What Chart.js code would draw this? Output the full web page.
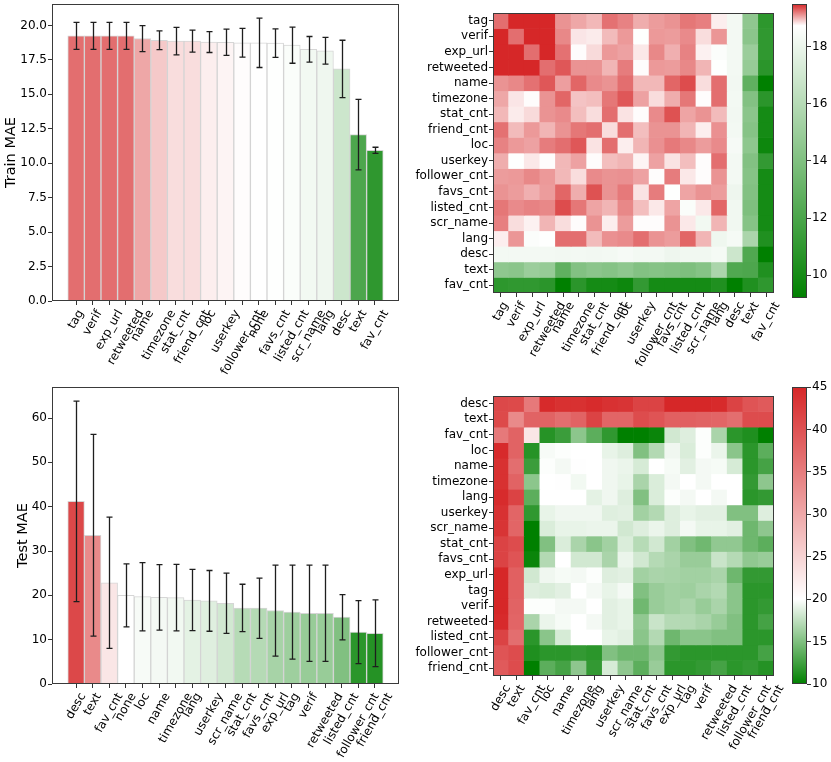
<!DOCTYPE html>
<html lang="en">
<head>
<meta charset="UTF-8">
<title>Feature ablation MAE</title>
<script src="https://cdn.jsdelivr.net/npm/chart.js"></script>
<style>
  body { margin: 0; background: #fff; }
  #wrap { position: relative; width: 831px; height: 762px; }
  canvas { position: absolute; }
</style>
</head>
<body>
<div id="wrap">
  <canvas id="trainBar" width="410" height="380" style="left:0;top:0"></canvas>
  <canvas id="testBar" width="410" height="382" style="left:0;top:380px"></canvas>
  <canvas id="trainHeat" width="375" height="380" style="left:410px;top:0"></canvas>
  <canvas id="testHeat" width="375" height="382" style="left:410px;top:380px"></canvas>
  <canvas id="trainCbar" width="46" height="310" style="left:785px;top:0"></canvas>
  <canvas id="testCbar" width="46" height="310" style="left:785px;top:380px"></canvas>
</div>
<script>
// single feature removed -> MAE (mean, +/- error)
const trainFeatures = ['tag', 'verif', 'exp_url', 'retweeted', 'name', 'timezone', 'stat_cnt', 'friend_cnt', 'loc', 'userkey',
  'follower_cnt', 'none', 'favs_cnt', 'listed_cnt', 'scr_name', 'lang', 'desc', 'text', 'fav_cnt'];
const trainMae = [19.25, 19.25, 19.25, 19.25, 19.05, 18.93, 18.86, 18.86, 18.8, 18.78,
  18.75, 18.74, 18.72, 18.57, 18.27, 18.16, 16.85, 12.08, 10.94];
const trainErr = [0.98, 0.98, 0.98, 0.98, 0.94, 0.68, 1.0, 0.8, 0.76, 0.95,
  1.04, 1.79, 1.03, 1.31, 0.93, 0.97, 2.08, 2.56, 0.22];
const trainTicks = [0, 2.5, 5, 7.5, 10, 12.5, 15, 17.5, 20];

const testFeatures = ['desc', 'text', 'fav_cnt', 'none', 'loc', 'name', 'timezone', 'lang', 'userkey', 'scr_name',
  'stat_cnt', 'favs_cnt', 'exp_url', 'tag', 'verif', 'retweeted', 'listed_cnt', 'follower_cnt', 'friend_cnt'];
const testMae = [41.2, 33.55, 22.85, 20.0, 19.7, 19.55, 19.5, 18.95, 18.75, 18.2,
  17.15, 17.1, 16.55, 16.2, 15.95, 15.95, 15.07, 11.7, 11.45];
const testErr = [22.6, 22.75, 14.8, 7.1, 7.7, 7.4, 7.5, 6.9, 6.85, 6.8,
  5.35, 6.8, 10.25, 10.6, 10.85, 10.85, 5.1, 7.1, 7.55];
const testTicks = [0, 10, 20, 30, 40, 50, 60];

// pairs of features removed -> train MAE
const trainPairs = ['tag', 'verif', 'exp_url', 'retweeted', 'name', 'timezone', 'stat_cnt', 'friend_cnt', 'loc',
  'userkey', 'follower_cnt', 'favs_cnt', 'listed_cnt', 'scr_name', 'lang', 'desc', 'text', 'fav_cnt'];
const trainGrid = [
  [19.25, 19.5, 19.5, 19.5, 19.12, 19.05, 18.99, 19.24, 19.18, 19.03, 19.09, 19.12, 19.22, 19.19, 18.8, 18.3, 14.55, 10.9],
  [19.5, 19.25, 19.5, 19.5, 19.16, 18.83, 18.81, 18.98, 19.1, 18.72, 19.1, 19.09, 19.15, 18.86, 19.11, 18.3, 14.4, 11.0],
  [19.5, 19.5, 19.25, 19.5, 19.24, 18.75, 18.87, 19.1, 19.07, 18.82, 19.16, 19.02, 19.18, 18.79, 18.6, 18.3, 15.0, 11.0],
  [19.5, 19.5, 19.5, 19.25, 19.33, 19.12, 19.12, 19.0, 19.2, 18.75, 19.1, 19.09, 19.16, 19.0, 18.72, 18.3, 14.8, 10.8],
  [19.12, 19.16, 19.24, 19.33, 19.08, 19.28, 19.15, 19.12, 19.25, 18.99, 18.99, 19.28, 19.37, 18.86, 19.25, 18.25, 12.8, 9.2],
  [19.05, 18.83, 18.75, 19.12, 19.28, 18.95, 18.97, 19.22, 19.33, 19.07, 18.86, 19.03, 19.22, 18.75, 19.25, 18.3, 14.1, 10.8],
  [18.99, 18.81, 18.87, 19.12, 19.15, 18.97, 18.86, 19.25, 18.84, 18.75, 19.15, 19.35, 19.06, 19.12, 18.98, 18.25, 14.4, 10.0],
  [19.24, 18.98, 19.1, 19.0, 19.12, 19.22, 19.25, 18.86, 19.25, 18.97, 19.12, 19.12, 19.0, 18.8, 19.13, 18.3, 14.2, 10.0],
  [19.18, 19.1, 19.07, 19.2, 19.25, 19.33, 18.84, 19.25, 18.8, 19.0, 19.13, 19.21, 19.16, 19.09, 19.15, 18.4, 14.5, 9.7],
  [19.03, 18.72, 18.82, 18.75, 18.99, 19.07, 18.75, 18.97, 19.0, 18.78, 19.07, 18.84, 18.97, 18.75, 19.25, 18.3, 14.1, 11.1],
  [19.09, 19.1, 19.16, 19.1, 18.99, 18.86, 19.15, 19.12, 19.13, 19.07, 18.75, 19.2, 18.82, 18.75, 19.12, 18.3, 14.2, 10.0],
  [19.12, 19.09, 19.02, 19.09, 19.28, 19.03, 19.35, 19.12, 19.21, 18.84, 19.2, 18.72, 19.06, 19.12, 19.09, 18.1, 14.1, 10.0],
  [19.22, 19.15, 19.18, 19.16, 19.37, 19.22, 19.06, 19.0, 19.16, 18.97, 18.82, 19.06, 18.57, 18.82, 19.28, 18.2, 13.9, 10.0],
  [19.19, 18.86, 18.79, 19.0, 18.86, 18.75, 19.12, 18.8, 19.09, 18.75, 18.75, 19.12, 18.82, 18.27, 19.0, 18.2, 14.2, 10.0],
  [18.8, 19.11, 18.6, 18.72, 19.25, 19.25, 18.98, 19.13, 19.15, 19.25, 19.12, 19.09, 19.28, 19.0, 18.16, 18.35, 15.6, 10.4],
  [18.3, 18.3, 18.3, 18.3, 18.25, 18.3, 18.25, 18.3, 18.4, 18.3, 18.3, 18.1, 18.2, 18.2, 18.35, 16.85, 12.2, 9.2],
  [14.55, 14.4, 15.0, 14.8, 12.8, 14.1, 14.4, 14.2, 14.5, 14.1, 14.2, 14.1, 13.9, 14.2, 15.6, 12.2, 12.08, 10.4],
  [10.9, 11.0, 11.0, 10.8, 9.2, 10.8, 10.0, 10.0, 9.7, 11.1, 10.0, 10.0, 10.0, 10.0, 10.4, 9.2, 10.4, 10.94]
];
const trainCbarTicks = [10, 12, 14, 16, 18];

// pairs of features removed -> test MAE
const testPairs = ['desc', 'text', 'fav_cnt', 'loc', 'name', 'timezone', 'lang', 'userkey', 'scr_name',
  'stat_cnt', 'favs_cnt', 'exp_url', 'tag', 'verif', 'retweeted', 'listed_cnt', 'follower_cnt', 'friend_cnt'];
const testGrid = [
  [41.2, 41.0, 35.5, 44.6, 43.9, 43.9, 44.5, 43.8, 43.5, 41.8, 41.8, 45.0, 45.0, 45.0, 44.6, 41.8, 39.8, 39.1],
  [41.0, 33.55, 38.0, 38.0, 36.8, 38.0, 41.8, 37.8, 37.8, 40.7, 39.8, 38.4, 38.4, 38.0, 37.8, 36.8, 40.7, 40.7],
  [35.5, 38.0, 22.85, 11.5, 12.3, 15.5, 13.6, 11.9, 10.0, 10.0, 10.4, 18.2, 18.7, 19.9, 16.65, 11.7, 11.2, 10.0],
  [44.6, 38.0, 11.5, 19.7, 19.9, 20.0, 20.0, 19.1, 18.7, 15.05, 17.0, 19.4, 18.55, 19.9, 19.2, 15.4, 11.7, 13.6],
  [43.9, 36.8, 12.3, 19.9, 19.55, 19.95, 20.0, 19.4, 19.2, 18.4, 20.0, 19.65, 18.85, 19.55, 19.65, 18.4, 11.7, 12.7],
  [43.9, 38.0, 15.5, 20.0, 19.95, 19.5, 20.0, 19.4, 19.1, 16.65, 18.55, 19.55, 20.0, 19.55, 20.0, 20.0, 12.0, 15.55],
  [44.5, 41.8, 13.6, 20.0, 20.0, 20.0, 18.95, 19.4, 18.7, 15.05, 18.55, 19.9, 19.55, 20.0, 19.55, 20.0, 11.7, 12.0],
  [43.8, 37.8, 11.9, 19.1, 19.4, 19.4, 19.4, 18.75, 18.85, 16.35, 17.0, 18.7, 19.1, 18.85, 18.85, 15.05, 15.05, 18.7],
  [43.5, 37.8, 10.0, 18.55, 19.1, 19.1, 19.2, 19.2, 18.2, 18.7, 19.2, 18.7, 19.55, 19.1, 19.1, 18.85, 14.3, 15.55],
  [41.8, 40.7, 10.0, 15.05, 18.55, 16.65, 15.4, 16.35, 18.55, 17.15, 18.2, 16.35, 15.05, 14.4, 15.7, 15.7, 14.3, 13.6],
  [41.8, 39.8, 10.4, 17.0, 20.0, 18.2, 18.2, 16.65, 19.2, 18.2, 17.1, 16.65, 16.0, 16.0, 17.9, 17.1, 15.7, 16.0],
  [45.0, 38.4, 18.2, 19.4, 19.65, 19.55, 19.9, 18.7, 18.85, 16.35, 16.65, 16.55, 16.35, 16.35, 16.65, 14.3, 12.0, 12.0],
  [45.0, 38.4, 18.7, 18.55, 18.85, 20.0, 19.55, 19.1, 19.55, 15.05, 16.0, 16.35, 16.2, 16.65, 17.0, 15.4, 11.7, 11.7],
  [45.0, 38.0, 19.9, 19.9, 19.55, 19.55, 20.0, 18.85, 19.1, 14.4, 16.0, 16.35, 16.65, 15.95, 16.65, 15.4, 11.7, 12.0],
  [44.6, 37.8, 16.65, 19.2, 19.65, 20.0, 19.55, 18.85, 19.1, 15.7, 17.9, 17.1, 17.0, 16.65, 15.95, 15.05, 11.7, 12.7],
  [41.8, 36.8, 11.7, 15.4, 18.4, 20.0, 20.0, 19.1, 18.85, 15.4, 17.0, 14.3, 15.4, 15.4, 15.05, 15.07, 11.7, 11.7],
  [39.8, 40.7, 11.2, 11.7, 11.7, 12.0, 11.7, 15.05, 14.3, 14.3, 15.55, 12.0, 11.7, 11.7, 11.7, 11.7, 11.7, 12.7],
  [39.1, 40.7, 10.0, 13.6, 12.7, 15.55, 12.0, 18.4, 15.55, 13.6, 16.0, 11.7, 11.7, 12.0, 12.7, 11.7, 12.0, 11.45]
];
const testCbarTicks = [10, 15, 20, 25, 30, 35, 40, 45];

// colour scale: [vmin, centre (= "none" score), vmax]
const trainNorm = [9.2, 18.74, 19.5];
const testNorm = [10, 20.0, 45];

Chart.defaults.font.family = '"DejaVu Sans", sans-serif';
Chart.defaults.font.size = 12;
Chart.defaults.color = '#000';
Chart.defaults.animation = false;

const GREEN = [0, 128, 0], WHITE = [255, 255, 255], RED = [214, 39, 40];

function mix(a, b, t) {
  return a.map((v, i) => Math.round(v + (b[i] - v) * t));
}

function colorFor(v, norm) {
  const [lo, mid, hi] = norm;
  let c;
  if (v <= mid) c = mix(GREEN, WHITE, Math.max(0, (v - lo) / (mid - lo)));
  else c = mix(WHITE, RED, Math.min(1, (v - mid) / (hi - mid)));
  return 'rgb(' + c.join(',') + ')';
}

// box around the plot area, like matplotlib spines
const frame = {
  id: 'frame',
  afterDraw(chart) {
    const a = chart.chartArea, ctx = chart.ctx;
    ctx.save();
    ctx.strokeStyle = '#3a3a3a';
    ctx.lineWidth = 1;
    ctx.strokeRect(Math.round(a.left) + 0.5, Math.round(a.top) + 0.5,
      Math.round(a.right - a.left) - 1, Math.round(a.bottom - a.top) - 1);
    ctx.restore();
  }
};

// x labels rotated 60 deg, centred on the tick (matplotlib style)
const rotLabels = {
  id: 'rotLabels',
  afterDraw(chart, args, opts) {
    if (!opts.labels) return;
    const xs = chart.scales.x, ctx = chart.ctx;
    const ang = Math.PI / 3, h = 12;
    ctx.save();
    ctx.font = '12px "DejaVu Sans"';
    ctx.fillStyle = '#000';
    ctx.textAlign = 'center';
    ctx.textBaseline = 'middle';
    opts.labels.forEach((txt, i) => {
      const w = ctx.measureText(txt).width;
      const x = xs.getPixelForValue(i + opts.shift);
      const bh = w * Math.sin(ang) + h * Math.cos(ang);
      ctx.save();
      ctx.translate(x, chart.chartArea.bottom + 7 + bh / 2);
      ctx.rotate(-ang);
      ctx.fillText(txt, 0, 0);
      ctx.restore();
    });
    ctx.restore();
  }
};

const errBars = {
  id: 'errBars',
  afterDatasetsDraw(chart, args, opts) {
    if (!opts.errs) return;
    const xs = chart.scales.x, ys = chart.scales.y, ctx = chart.ctx;
    ctx.save();
    ctx.strokeStyle = '#1e1e1e';
    ctx.lineWidth = 1.3;
    chart.data.datasets[0].data.forEach((p, i) => {
      const e = opts.errs[i];
      const px = Math.round(xs.getPixelForValue(p.x)) + 0.5;
      const y1 = ys.getPixelForValue(p.y + e), y2 = ys.getPixelForValue(p.y - e);
      ctx.beginPath();
      ctx.moveTo(px, y1); ctx.lineTo(px, y2);
      ctx.moveTo(px - 3, y1); ctx.lineTo(px + 3, y1);
      ctx.moveTo(px - 3, y2); ctx.lineTo(px + 3, y2);
      ctx.stroke();
    });
    ctx.restore();
  }
};

const tickGrid = { drawOnChartArea: false, drawTicks: true, tickLength: 4, color: '#333', offset: false };

function barChart(id, feats, vals, errs, norm, yTicks, yMax, title, titlePad, pad, xHeight) {
  const n = feats.length;
  new Chart(document.getElementById(id), {
    type: 'bar',
    data: {
      datasets: [{
        data: vals.map((v, i) => ({ x: i, y: v })),
        backgroundColor: vals.map(v => colorFor(v, norm)),
        borderColor: 'rgba(200,200,200,0.75)',
        borderWidth: 1,
        barPercentage: 1,
        categoryPercentage: 1
      }]
    },
    options: {
      responsive: false,
      layout: { padding: pad },
      plugins: {
        legend: { display: false },
        tooltip: { enabled: false },
        rotLabels: { labels: feats, shift: 0 },
        errBars: { errs: errs }
      },
      scales: {
        x: {
          type: 'linear',
          offset: false,
          min: -1.45,
          max: n - 1 + 1.45,
          afterBuildTicks: s => { s.ticks = feats.map((f, i) => ({ value: i })); },
          afterFit: s => { s.height = xHeight; s.paddingLeft = 0; s.paddingRight = 0; },
          ticks: { display: false },
          grid: tickGrid,
          border: { display: false }
        },
        y: {
          min: 0,
          max: yMax,
          afterBuildTicks: s => { s.ticks = yTicks.map(v => ({ value: v })); },
          afterFit: s => { s.width = 52; s.paddingTop = 0; s.paddingBottom = 0; },
          ticks: {
            padding: 1,
            autoSkip: false,
            callback: v => (yTicks[1] % 1 ? v.toFixed(1) : String(v))
          },
          grid: tickGrid,
          border: { display: false },
          title: { display: true, text: title, font: { size: 14.5 }, padding: { top: titlePad, bottom: 0 } }
        }
      }
    },
    plugins: [frame, rotLabels, errBars]
  });
}

function heatChart(id, names, grid, norm, pad, xHeight) {
  const n = names.length;
  const datasets = grid.map((row, r) => ({
    data: row.map((v, c) => ({ x: c + 0.5, y: [r, r + 1] })),
    backgroundColor: row.map(v => colorFor(v, norm)),
    borderWidth: 0,
    barPercentage: 1,
    categoryPercentage: 1,
    grouped: false
  }));
  new Chart(document.getElementById(id), {
    type: 'bar',
    data: { datasets: datasets },
    options: {
      responsive: false,
      layout: { padding: pad },
      plugins: {
        legend: { display: false },
        tooltip: { enabled: false },
        rotLabels: { labels: names, shift: 0.5 }
      },
      scales: {
        x: {
          type: 'linear',
          offset: false,
          min: 0,
          max: n,
          afterBuildTicks: s => { s.ticks = names.map((f, i) => ({ value: i + 0.5 })); },
          afterFit: s => { s.height = xHeight; s.paddingLeft = 0; s.paddingRight = 0; },
          ticks: { display: false },
          grid: tickGrid,
          border: { display: false }
        },
        y: {
          type: 'linear',
          min: 0,
          max: n,
          reverse: true,
          afterBuildTicks: s => { s.ticks = names.map((f, i) => ({ value: i + 0.5 })); },
          afterFit: s => { s.width = 83; s.paddingTop = 0; s.paddingBottom = 0; },
          ticks: { padding: 1, autoSkip: false, callback: v => names[Math.floor(v)] },
          grid: tickGrid,
          border: { display: false }
        }
      }
    },
    plugins: [frame, rotLabels]
  });
}

function cbarFill(c, norm) {
  const chart = c.chart;
  const ys = chart.scales.y;
  if (!chart.chartArea || !ys) return 'rgba(0,0,0,0)';
  const y0 = ys.getPixelForValue(norm[0]), y1 = ys.getPixelForValue(norm[2]);
  const g = chart.ctx.createLinearGradient(0, y0, 0, y1);
  g.addColorStop(0, 'rgb(0,128,0)');
  g.addColorStop((norm[1] - norm[0]) / (norm[2] - norm[0]), '#fff');
  g.addColorStop(1, 'rgb(214,39,40)');
  return g;
}

function cbarChart(id, norm, ticks, pad) {
  new Chart(document.getElementById(id), {
    type: 'bar',
    data: {
      datasets: [{
        data: [{ x: 0.5, y: [norm[0], norm[2]] }],
        backgroundColor: c => cbarFill(c, norm),
        borderWidth: 0,
        barThickness: 15
      }]
    },
    options: {
      responsive: false,
      layout: { padding: pad },
      plugins: { legend: { display: false }, tooltip: { enabled: false } },
      scales: {
        x: { type: 'linear', offset: false, min: 0, max: 1, display: false },
        y: {
          position: 'right',
          min: norm[0],
          max: norm[2],
          afterBuildTicks: s => { s.ticks = ticks.map(v => ({ value: v })); },
          afterFit: s => { s.width = 24; s.paddingTop = 0; s.paddingBottom = 0; },
          ticks: { padding: 1, autoSkip: false },
          grid: tickGrid,
          border: { display: false }
        }
      }
    },
    plugins: [frame]
  });
}

barChart('trainBar', trainFeatures, trainMae, trainErr, trainNorm, trainTicks, 21.56, 'Train MAE', 3,
  { top: 4, right: 11, left: 0, bottom: 0 }, 79);
barChart('testBar', testFeatures, testMae, testErr, testNorm, testTicks, 67.0, 'Test MAE', 15,
  { top: 7, right: 11, left: 0, bottom: 0 }, 78);
heatChart('trainHeat', trainPairs, trainGrid, trainNorm, { top: 13, right: 11, left: 0, bottom: 0 }, 87);
heatChart('testHeat', testPairs, testGrid, testNorm, { top: 16, right: 11, left: 0, bottom: 0 }, 86);
cbarChart('trainCbar', trainNorm, trainCbarTicks, { top: 4, right: 0, left: 7, bottom: 12 });
cbarChart('testCbar', testNorm, testCbarTicks, { top: 7, right: 0, left: 7, bottom: 6 });
</script>
</body>
</html>
